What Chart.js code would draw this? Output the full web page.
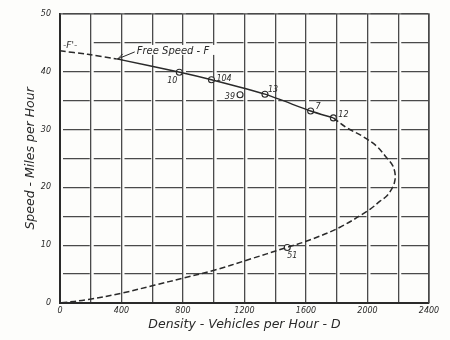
<!DOCTYPE html>
<html>
<head>
<meta charset="utf-8">
<script src="https://cdn.jsdelivr.net/npm/chart.js@4.4.1/dist/chart.umd.min.js"></script>
<style>
  html, body { margin: 0; padding: 0; background: #fdfdfb; }
  canvas { display: block; }
</style>
</head>
<body>
<canvas id="speedChart" width="450" height="340"></canvas>
<script>
// free speed extension F' (dashed, up to where the observations start)
const freeDensity = [0, 180, 369];
const freeSpeed = [43.6, 43.0, 42.2];

// observed trend line through the stations
const trendDensity = [369, 780, 985, 1333, 1630, 1778];
const trendSpeed = [42.2, 39.9, 38.6, 36.1, 33.2, 32.0];

// dashed return curve, from station 12 round the nose down to zero
const curveDensity = [1778, 1865, 1969, 2060, 2125, 2163, 2180, 2175, 2155, 2125, 2081, 2016, 1821, 1615, 1474, 1214, 1008, 800, 618, 401, 184, 0];
const curveSpeed = [32.0, 30.3, 28.8, 27.1, 25.1, 23.8, 22.2, 20.8, 19.6, 18.5, 17.6, 16.2, 13.1, 10.8, 9.6, 7.4, 5.7, 4.3, 3.1, 1.7, 0.6, 0];

// counting stations
const stationIds = ['10', '104', '39', '13', '7', '12', '51'];
const stationDensity = [776, 985, 1171, 1333, 1630, 1778, 1478];
const stationSpeed = [39.9, 38.6, 36.0, 36.1, 33.2, 32.0, 9.6];

const xTicks = [0, 400, 800, 1200, 1600, 2000, 2400];
const yTicks = [0, 10, 20, 30, 40, 50];

const ink = '#2a2a2a';
const gridInk = '#4a4a4a';
const family = '"DejaVu Sans", "Liberation Sans", sans-serif';

const pts = (xs, ys) => xs.map((x, i) => ({ x, y: ys[i] }));

// where each station number sits relative to its circle
const labelOffsets = {
  '10': [-7, 9, 'center'],
  '104': [5, -1, 'left'],
  '39': [-5, 2, 'right'],
  '13': [3, -4, 'left'],
  '7': [5, -4, 'left'],
  '12': [5, -3, 'left'],
  '51': [5, 8, 'center']
};

const paperPlugin = {
  id: 'paper',
  beforeDraw(chart) {
    const ctx = chart.ctx;
    ctx.save();
    ctx.fillStyle = '#fdfdfb';
    ctx.fillRect(0, 0, chart.width, chart.height);
    ctx.restore();
  },
  afterDraw(chart) {
    const { ctx, chartArea: a, scales } = chart;
    ctx.save();
    // outer frame
    ctx.strokeStyle = gridInk;
    ctx.lineWidth = 1.3;
    ctx.beginPath();
    ctx.moveTo(a.left, a.top);
    ctx.lineTo(a.right, a.top);
    ctx.lineTo(a.right, a.bottom);
    ctx.stroke();

    // station numbers
    ctx.fillStyle = ink;
    ctx.font = 'italic 8px ' + family;
    ctx.textBaseline = 'middle';
    const meta = chart.getDatasetMeta(3);
    meta.data.forEach((p, i) => {
      const id = stationIds[i];
      const o = labelOffsets[id];
      ctx.textAlign = o[2];
      ctx.fillText(id, p.x + o[0], p.y + o[1]);
    });

    // F' marker at the start of the free speed line
    const fx = scales.x.getPixelForValue(freeDensity[0]);
    const fy = scales.y.getPixelForValue(freeSpeed[0]);
    ctx.fillStyle = '#fdfdfb';
    ctx.fillRect(fx + 2, fy - 10, 28, 8);
    ctx.fillStyle = ink;
    ctx.textAlign = 'left';
    ctx.font = 'italic 9px ' + family;
    ctx.fillText("-F'-", fx + 3, fy - 5.5);

    // Free Speed - F with leader arrow
    const ex = scales.x.getPixelForValue(freeDensity[freeDensity.length - 1]);
    const ey = scales.y.getPixelForValue(freeSpeed[freeSpeed.length - 1]);
    ctx.fillStyle = '#fdfdfb';
    ctx.fillRect(ex + 19, ey - 14, 88, 10);
    ctx.fillStyle = ink;
    ctx.font = 'italic 10px ' + family;
    ctx.fillText('Free Speed - F', ex + 20, ey - 8);
    ctx.strokeStyle = ink;
    ctx.lineWidth = 1;
    ctx.beginPath();
    ctx.moveTo(ex + 18, ey - 7);
    ctx.lineTo(ex + 1, ey);
    ctx.moveTo(ex + 6, ey - 5);
    ctx.lineTo(ex + 1, ey);
    ctx.lineTo(ex + 6, ey + 1);
    ctx.stroke();
    ctx.restore();
  }
};

new Chart(document.getElementById('speedChart'), {
  type: 'scatter',
  data: {
    datasets: [
      {
        data: pts(freeDensity, freeSpeed),
        showLine: true, borderColor: ink, borderWidth: 1.5,
        borderDash: [6, 3], pointRadius: 0, tension: 0.3
      },
      {
        data: pts(trendDensity, trendSpeed),
        showLine: true, borderColor: ink, borderWidth: 1.4,
        pointRadius: 0, tension: 0.2
      },
      {
        data: pts(curveDensity, curveSpeed),
        showLine: true, borderColor: ink, borderWidth: 1.5,
        borderDash: [6, 3], pointRadius: 0, tension: 0.35
      },
      {
        data: pts(stationDensity, stationSpeed),
        showLine: false, pointRadius: 3, pointBorderWidth: 1.1,
        pointBackgroundColor: '#fdfdfb', pointBorderColor: ink
      }
    ]
  },
  options: {
    responsive: false,
    animation: false,
    layout: { padding: { top: 11, right: 21, left: 0, bottom: 0 } },
    plugins: { legend: { display: false }, tooltip: { enabled: false } },
    scales: {
      x: {
        type: 'linear', min: 0, max: 2400,
        afterFit: s => { s.height = 37; },
        ticks: {
          stepSize: 200, autoSkip: false, maxRotation: 0, padding: 3,
          color: ink,
          font: { family, size: 8, style: 'italic' },
          callback: v => xTicks.includes(v) ? String(v) : ''
        },
        grid: { color: gridInk, lineWidth: 1.3, drawTicks: false },
        border: { display: true, color: ink, width: 2 },
        title: {
          display: true, text: 'Density - Vehicles per Hour - D', color: ink,
          font: { family, size: 12.5, style: 'italic' },
          padding: { top: 0, bottom: 8 }
        }
      },
      y: {
        min: 0, max: 50,
        afterFit: s => { s.width = 60; },
        ticks: {
          stepSize: 5, autoSkip: false, padding: 9,
          color: ink,
          font: { family, size: 8, style: 'italic' },
          callback: v => yTicks.includes(v) ? String(v) : ''
        },
        grid: { color: gridInk, lineWidth: 1.3, drawTicks: false },
        border: { display: true, color: ink, width: 2, dash: [26.75, 4], dashOffset: 28.75 },
        title: {
          display: true, text: 'Speed - Miles per Hour', color: ink,
          font: { family, size: 12.5, style: 'italic' },
          padding: { top: 23, bottom: 0 }
        }
      }
    }
  },
  plugins: [paperPlugin]
});
</script>
</body>
</html>
